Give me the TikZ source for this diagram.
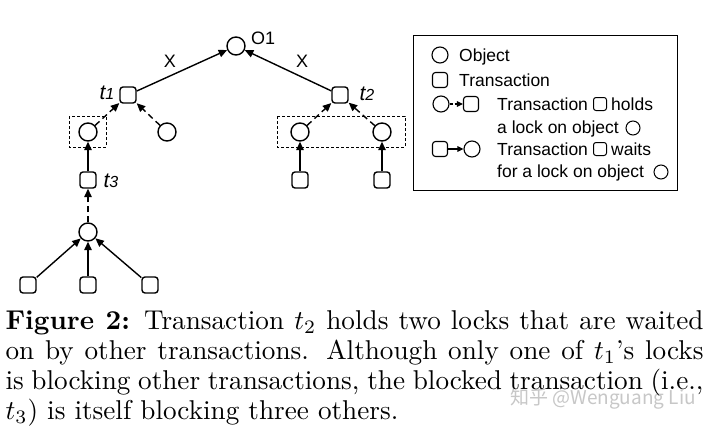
\documentclass[tikz,border=0pt]{standalone}
\usepackage{fontspec}
\newfontfamily\hv{Liberation Sans}
\newfontfamily\cjk{Noto Sans CJK SC}
\usetikzlibrary{arrows.meta}
\begin{document}
\begin{tikzpicture}[x=1pt,y=-1pt,
  obj/.style={circle,draw,line width=1.4pt,minimum size=18pt,inner sep=0pt},
  txn/.style={rectangle,rounded corners=3pt,draw,line width=1.4pt,minimum size=16pt,inner sep=0pt},
  lobj/.style={obj,minimum size=16pt,line width=1.1pt},
  ltxn/.style={txn,minimum size=15pt,line width=1.1pt},
  iobj/.style={obj,minimum size=14pt,line width=1pt},
  itxn/.style={txn,minimum size=13pt,line width=1pt,rounded corners=2.5pt},
  wait/.style={-{Triangle[length=8.5pt,width=7.5pt]},line width=1.4pt},
  hold/.style={wait,dash pattern=on 6pt off 4pt},
  lwait/.style={-{Triangle[length=6pt,width=5.5pt]},line width=1.1pt},
  lhold/.style={lwait,dash pattern=on 3pt off 2pt},
  grp/.style={draw,dash pattern=on 3pt off 2pt,line width=0.8pt},
  lbl/.style={font=\hv\fontsize{18}{20}\selectfont,inner sep=0pt},
  tl/.style={font=\hv\itshape\fontsize{21}{22}\selectfont,inner sep=0pt},
  leg/.style={font=\hv\fontsize{17.5}{20}\selectfont,inner sep=0pt,anchor=base west},
  captext/.style={font=\fontsize{10}{11}\selectfont,inner sep=0pt,anchor=base west,scale=2.72,transform shape}
]
\useasboundingbox (0,0) rectangle (720,434);
\fill[white] (0,0) rectangle (720,434);

% tree
\node[obj] (o1) at (236,46) {};
\node[lbl,anchor=west] (o1l) at (251,38) {O1};
\node[txn] (t1) at (128,95) {};
\node[txn] (t2) at (340,95) {};
\node[tl] (t1l) at (107,93) {t\fontsize{16}{16}\selectfont 1};
\node[tl] (t2l) at (367,94) {t\fontsize{16}{16}\selectfont 2};
\node[lbl] (x1) at (170,61) {X};
\node[lbl] (x2) at (302,61) {X};
\node[obj] (a) at (88,132) {};
\node[obj] (b) at (167,132) {};
\node[obj] (c) at (300,132) {};
\node[obj] (d) at (382,132) {};
\node[txn] (t3) at (88,180) {};
\node[tl] (t3l) at (111,181) {t\fontsize{16}{16}\selectfont 3};
\node[txn] (e) at (300,180) {};
\node[txn] (f) at (382,180) {};
\node[obj] (g) at (88,232) {};
\node[txn] (h1) at (28,285) {};
\node[txn] (h2) at (88,285) {};
\node[txn] (h3) at (150,285) {};

\draw[grp] (69,116) rectangle (106,147);
\draw[grp] (277,116) rectangle (405,147);

\draw[wait] (t1) -- (o1);
\draw[wait] (t2) -- (o1);
\draw[hold] (a) -- (t1);
\draw[hold] (b) -- (t1);
\draw[hold] (c) -- (t2);
\draw[hold] (d) -- (t2);
\draw[wait] (t3) -- (a);
\draw[wait] (e) -- (c);
\draw[wait] (f) -- (d);
\draw[hold] (g) -- (t3);
\draw[wait] (h1) -- (g);
\draw[wait] (h2) -- (g);
\draw[wait] (h3) -- (g);

% legend
\draw[line width=0.9pt] (413,35) rectangle (677,190);
\node[lobj] (lo) at (440,55) {};
\node[leg] (lot) at (459,61) {Object};
\node[ltxn] (lt) at (440,80) {};
\node[leg] (ltt) at (459,86) {Transaction};
\node[lobj] (lho) at (441,104) {};
\node[ltxn] (lht) at (471,104) {};
\draw[lhold] (lho) -- (lht);
\node[leg] (lh1) at (497,110) {Transaction};
\node[itxn] (lhs) at (600,104) {};
\node[leg] (lh2) at (611,110) {holds};
\node[leg] (lh3) at (497,133) {a lock on object};
\node[iobj] (lhc) at (633,128) {};
\node[ltxn] (lwt) at (440,149) {};
\node[lobj] (lwo) at (472,149) {};
\draw[lwait] (lwt) -- (lwo);
\node[leg] (lw1) at (497,155) {Transaction};
\node[itxn] (lws) at (600,149) {};
\node[leg] (lw2) at (611,155) {waits};
\node[leg] (lw3) at (497,177) {for a lock on object};
\node[iobj] (lwc) at (661,172) {};

% watermark
\node[font=\cjk\fontsize{19}{20}\selectfont,text=black!22,inner sep=0pt] (wm) at (603,399) {知乎 @Wenguang Liu};

% caption
\node[captext] (c1) at (5,329) {\makebox[256.6pt][s]{\textbf{Figure 2:} Transaction $t_2$ holds two locks that are waited}};
\node[captext] (c2) at (5,359) {\makebox[256.6pt][s]{on by other transactions. Although only one of $t_1$'s locks}};
\node[captext] (c3) at (5,389) {\makebox[256.6pt][s]{is blocking other transactions, the blocked transaction (i.e.,}};
\node[captext] (c4) at (5,419) {$t_3$) is itself blocking three others.};
\end{tikzpicture}
\end{document}
